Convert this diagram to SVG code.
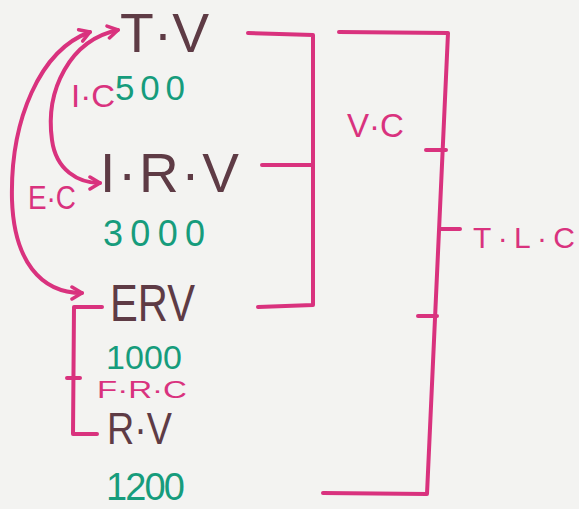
<svg xmlns="http://www.w3.org/2000/svg" width="579" height="509" viewBox="0 0 579 509">
<defs>
<style>
.bg{fill:#f3f3f1}
.ln{fill:none;stroke:#d9327e;stroke-width:4;stroke-linecap:round;stroke-linejoin:round}
.br{fill:#5e3b45;font-family:"Liberation Sans",Arial,sans-serif}
.gr{fill:#169c7c;font-family:"Liberation Sans",Arial,sans-serif}
.pk{fill:#d9327e;font-family:"Liberation Sans",Arial,sans-serif}
</style>
<marker id="ah" viewBox="-12 -8 14 16" refX="0" refY="0" markerWidth="14" markerHeight="16" markerUnits="userSpaceOnUse" orient="auto-start-reverse">
<path d="M-10,-6 L0,0 L-10,6" fill="none" stroke="#d9327e" stroke-width="3.5" stroke-linecap="round" stroke-linejoin="round"/>
</marker>
</defs>
<rect class="bg" x="0" y="0" width="579" height="509"/>

<g id="connectors">
<path id="ic-arrow" class="ln" d="M118,30 C70,40 45,90 52,140 C56,170 78,183 100,183" marker-start="url(#ah)" marker-end="url(#ah)"/>
<path id="ec-arrow" class="ln" d="M90,32 C40,50 10,120 12,200 C14,260 40,293 82,293" marker-start="url(#ah)" marker-end="url(#ah)"/>
<path id="vc-bracket" class="ln" d="M248,33 L313,35 L313,305 L258,307 M262,165 L313,165"/>
<path id="tlc-bracket" class="ln" d="M339,32 L448,33 L427,494 L323,493 M426,150 L446,150 M441,229 L460,229 M418,316 L437,316"/>
<path id="frc-bracket" class="ln" d="M102,307 L74,307 L73,434 L97,434 M67,378 L80,378"/>
</g>

<g id="tv"><text class="br" x="120" y="52" font-size="55" textLength="89" lengthAdjust="spacingAndGlyphs">T·V</text></g>
<g id="tv-val"><text class="gr" x="115" y="100" font-size="35" textLength="70" lengthAdjust="spacing">500</text></g>
<g id="ic"><text class="pk" x="71" y="107" font-size="31" textLength="44" lengthAdjust="spacingAndGlyphs">I·C</text></g>
<g id="irv"><text class="br" x="100" y="192" font-size="55" textLength="139" lengthAdjust="spacing">I·R·V</text></g>
<g id="ec"><text class="pk" x="28" y="209" font-size="33" textLength="48" lengthAdjust="spacingAndGlyphs">E·C</text></g>
<g id="irv-val"><text class="gr" x="103" y="246" font-size="36" textLength="102" lengthAdjust="spacing">3000</text></g>
<g id="erv"><text class="br" x="110" y="321" font-size="52" textLength="85" lengthAdjust="spacingAndGlyphs">ERV</text></g>
<g id="erv-val"><text class="gr" x="106" y="369" font-size="34" textLength="76" lengthAdjust="spacing">1000</text></g>
<g id="frc"><text class="pk" x="97" y="398" font-size="24" textLength="90" lengthAdjust="spacingAndGlyphs">F·R·C</text></g>
<g id="rv"><text class="br" x="107" y="444" font-size="44" textLength="65" lengthAdjust="spacingAndGlyphs">R·V</text></g>
<g id="rv-val"><text class="gr" x="106" y="500" font-size="38" textLength="79" lengthAdjust="spacing">1200</text></g>
<g id="vc"><text class="pk" x="347" y="137" font-size="33" textLength="57" lengthAdjust="spacingAndGlyphs">V·C</text></g>
<g id="tlc"><text class="pk" x="473" y="248" font-size="30" textLength="102" lengthAdjust="spacing">T·L·C</text></g>
</svg>
